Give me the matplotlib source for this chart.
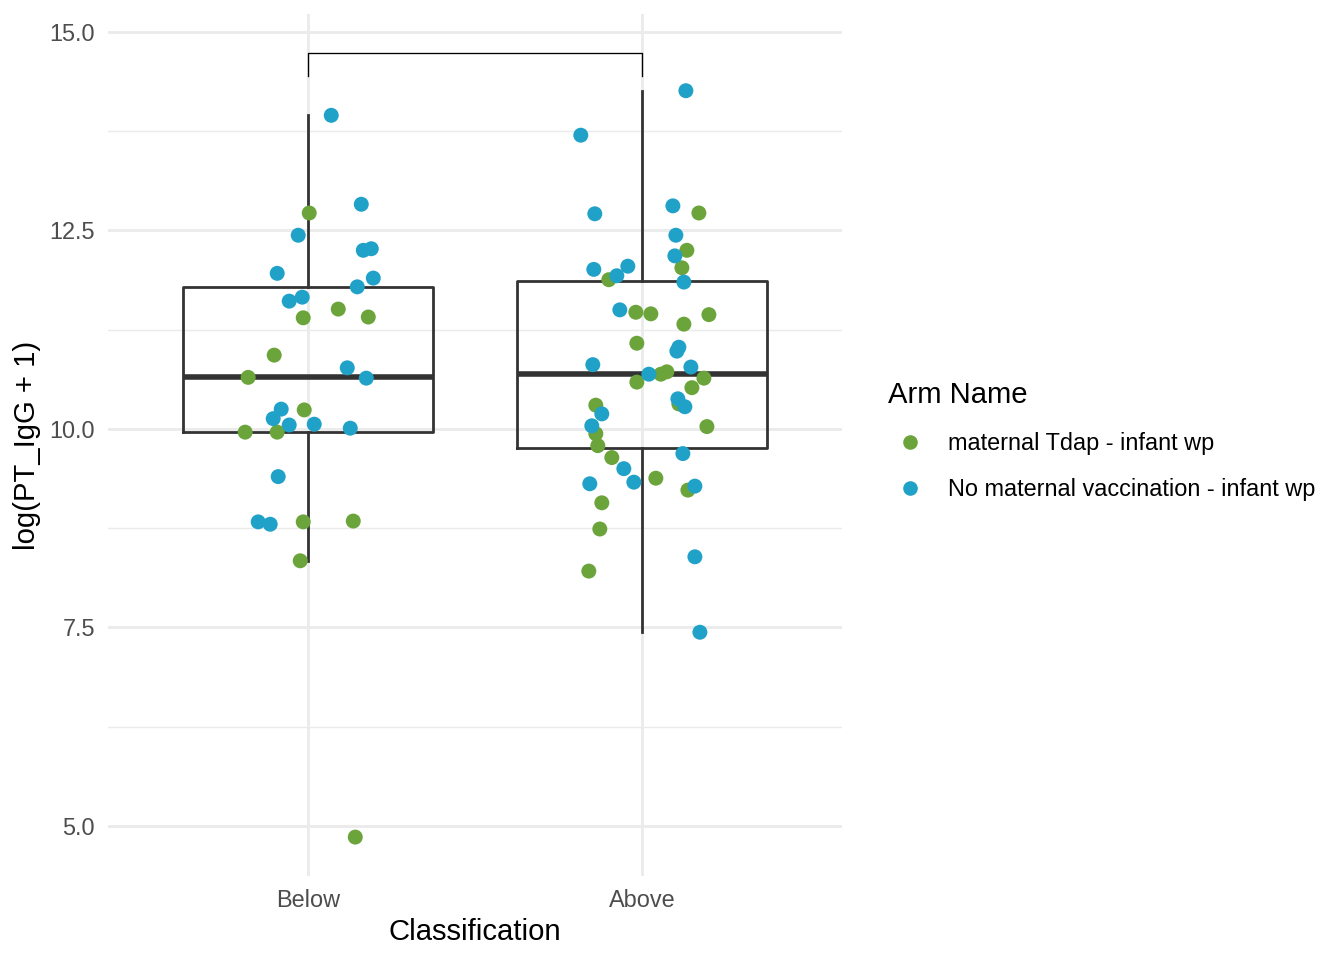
import numpy as np
import matplotlib
matplotlib.use('Agg')
import matplotlib.pyplot as plt
from matplotlib.lines import Line2D
from matplotlib.ticker import FixedLocator

plt.rcParams['font.family'] = ['Liberation Sans', 'DejaVu Sans']

categories = ['Below', 'Above']
arm_names = ['maternal Tdap - infant wp', 'No maternal vaccination - infant wp']
arm_colors = ['#6ba43a', '#20a1c8']

# values, with the horizontal jitter each point got
below_tdap = [12.72, 11.51, 11.40, 11.41, 10.93, 10.65, 10.24, 9.96, 9.96,
              8.83, 8.84, 8.34, 4.86]
below_tdap_jit = [0.003, 0.090, -0.015, 0.180, -0.102, -0.180, -0.012, -0.189,
                  -0.093, -0.015, 0.135, -0.024, 0.141]
below_none = [13.95, 12.83, 12.44, 12.25, 12.27, 11.96, 11.90, 11.79, 11.61,
              11.66, 10.77, 10.64, 10.25, 10.13, 10.05, 10.06, 10.01, 9.40,
              8.83, 8.80]
below_none_jit = [0.069, 0.159, -0.030, 0.165, 0.189, -0.093, 0.195, 0.147,
                  -0.057, -0.018, 0.117, 0.174, -0.081, -0.105, -0.057, 0.018,
                  0.126, -0.090, -0.150, -0.114]

above_tdap = [12.72, 12.25, 12.03, 11.88, 11.47, 11.45, 11.44, 11.32, 11.08,
              10.69, 10.72, 10.64, 10.59, 10.52, 10.30, 10.315, 10.03, 9.94,
              9.79, 9.64, 9.38, 9.23, 9.07, 8.74, 8.21]
above_tdap_jit = [0.171, 0.135, 0.120, -0.099, -0.018, 0.027, 0.201, 0.126,
                  -0.015, 0.057, 0.075, 0.186, -0.015, 0.150, -0.138, 0.111,
                  0.195, -0.138, -0.132, -0.090, 0.042, 0.138, -0.120, -0.126,
                  -0.159]
above_none = [14.26, 13.70, 12.71, 12.81, 12.44, 12.18, 12.01, 12.05, 11.93,
              11.85, 11.50, 11.03, 10.98, 10.81, 10.78, 10.69, 10.38, 10.28,
              10.19, 10.04, 9.69, 9.50, 9.33, 9.31, 9.28, 8.39, 7.44]
above_none_jit = [0.132, -0.183, -0.141, 0.093, 0.102, 0.099, -0.144, -0.042,
                  -0.075, 0.126, -0.066, 0.111, 0.105, -0.147, 0.147, 0.021,
                  0.108, 0.129, -0.120, -0.150, 0.123, -0.054, -0.024, -0.156,
                  0.159, 0.159, 0.174]

bracket_y = 14.73
bracket_tip = 0.28

groups = [
    [(below_tdap, below_tdap_jit), (below_none, below_none_jit)],
    [(above_tdap, above_tdap_jit), (above_none, above_none_jit)],
]

fig = plt.figure(figsize=(13.44, 9.6), dpi=100)
ax = fig.add_axes([0.0804, 0.0875, 0.5461, 0.8974])

grid_col = '#ebebeb'
box_col = '#333333'

pos = np.arange(len(categories))
all_vals = [np.concatenate([g[0][0], g[1][0]]) for g in groups]
ax.boxplot(all_vals, positions=pos, widths=0.75, whis=1.5,
           showfliers=False, showcaps=False,
           boxprops=dict(color=box_col, linewidth=2.0),
           whiskerprops=dict(color=box_col, linewidth=2.0),
           medianprops=dict(color=box_col, linewidth=4.0, solid_capstyle='butt'),
           zorder=2)

for i, g in enumerate(groups):
    for k, (vals, jit) in enumerate(g):
        ax.scatter(pos[i] + np.array(jit), vals, s=116, color=arm_colors[k],
                   edgecolors='none', zorder=3)

ax.plot([pos[0], pos[0], pos[1], pos[1]],
        [bracket_y - bracket_tip, bracket_y, bracket_y, bracket_y - bracket_tip],
        color='black', lw=0.95, zorder=2)

ax.set_xlim(-0.6, 1.6)
ax.set_ylim(4.37, 15.22)
ax.set_xticks(pos)
ax.set_xticklabels(categories)
ax.yaxis.set_major_locator(FixedLocator([5.0, 7.5, 10.0, 12.5, 15.0]))
ax.yaxis.set_minor_locator(FixedLocator([6.25, 8.75, 11.25, 13.75]))
ax.set_yticklabels(['5.0', '7.5', '10.0', '12.5', '15.0'])

ax.grid(True, which='major', color=grid_col, lw=2.05)
ax.grid(True, which='minor', axis='y', color=grid_col, lw=1.02)
ax.set_axisbelow(True)
for sp in ax.spines.values():
    sp.set_visible(False)
ax.tick_params(which='both', length=0, pad=9.5, labelsize=16.9,
               labelcolor='#4d4d4d')

ax.set_xlabel('Classification', fontsize=21.1, labelpad=4)
ax.set_ylabel('log(PT_IgG + 1)', fontsize=21.1, labelpad=6)

handles = [Line2D([], [], marker='o', ls='', color=c, markersize=10.5,
                  markeredgewidth=0) for c in arm_colors]
leg = fig.legend(handles, arm_names, title='Arm Name', loc='upper left',
                 bbox_to_anchor=(888 / 1344, 1 - 381 / 960),
                 frameon=False, fontsize=16.9, title_fontsize=21.1,
                 alignment='left', borderpad=0, borderaxespad=0,
                 handlelength=1.87, handletextpad=0.68, labelspacing=0.98)

fig.savefig('out.png', dpi=100)
